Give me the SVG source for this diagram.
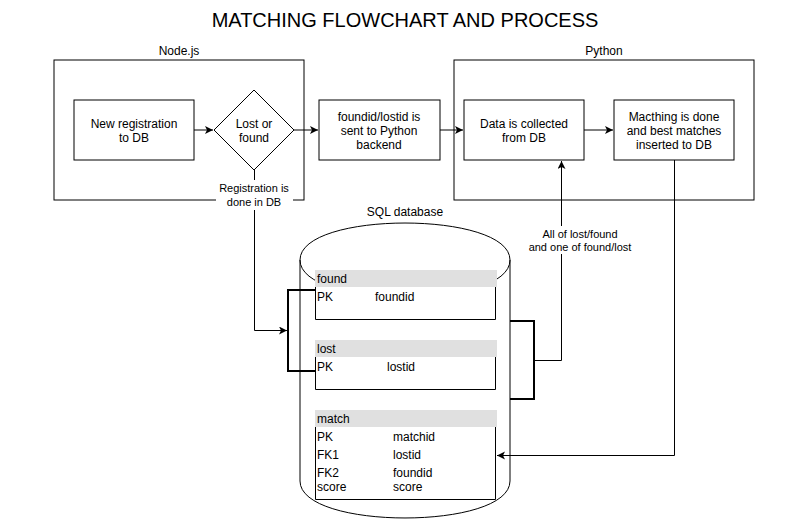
<svg xmlns="http://www.w3.org/2000/svg" width="811" height="521" viewBox="0 0 811 521">
<style>
text{font-family:"Liberation Sans",Arial,Helvetica,sans-serif;font-size:12px;fill:#000}
.c{text-anchor:middle}
.box{fill:#fff;stroke:#000;stroke-width:1}
.ln{fill:none;stroke:#000;stroke-width:1}
.body{fill:#fff;stroke:none}
.thick{fill:none;stroke:#000;stroke-width:2}
.hdr{fill:#e0e0e0;stroke:none}
</style>
<defs>
<marker id="arr" markerUnits="userSpaceOnUse" markerWidth="10" markerHeight="10" refX="8" refY="4" orient="auto">
<path d="M0,0 L8,4 L0,8 L2,4 Z" fill="#000"/>
</marker>
</defs>
<rect width="811" height="521" fill="#fff"/>
<text class="c" x="405" y="27" style="font-size:20px">MATCHING FLOWCHART AND PROCESS</text>

<g id="nodejs">
<rect class="box" x="54" y="60" width="250" height="140"/>
<text class="c" x="179" y="55">Node.js</text>
</g>
<g id="python">
<rect class="box" x="454" y="60" width="300" height="140"/>
<text class="c" x="604" y="55">Python</text>
</g>

<g id="db">
<path class="box" d="M300,260 C300,210.7 510,210.7 510,260 L510,481 C510,530.3 300,530.3 300,481 Z"/>
<path class="ln" d="M300,260 C300,309.3 510,309.3 510,260"/>
<text class="c" x="405" y="216">SQL database</text>
</g>

<g id="newreg">
<rect class="box" x="74" y="100" width="120" height="60"/>
<text class="c" x="134" y="128">New registration</text>
<text class="c" x="134" y="142">to DB</text>
</g>
<g id="lostorfound">
<path class="box" d="M254,90 L294,130 L254,170 L214,130 Z"/>
<text class="c" x="254" y="128">Lost or</text>
<text class="c" x="254" y="142">found</text>
</g>
<g id="sent">
<rect class="box" x="319" y="100" width="121" height="60"/>
<text class="c" x="379" y="121">foundid/lostid is</text>
<text class="c" x="379" y="135">sent to Python</text>
<text class="c" x="379" y="149">backend</text>
</g>
<g id="collect">
<rect class="box" x="464" y="100" width="120" height="60"/>
<text class="c" x="524" y="128">Data is collected</text>
<text class="c" x="524" y="142">from DB</text>
</g>
<g id="matching">
<rect class="box" x="614" y="100" width="120" height="60"/>
<text class="c" x="674" y="121">Macthing is done</text>
<text class="c" x="674" y="135">and best matches</text>
<text class="c" x="674" y="149">inserted to DB</text>
</g>

<g id="found">
<rect class="hdr" x="315" y="270" width="182" height="17"/>
<rect class="body" x="315" y="287" width="181" height="33"/>
<path class="ln" d="M315.5,287 L315.5,319.5 L495.5,319.5 L495.5,287"/>
<text x="317" y="283">found</text>
<text x="317" y="301">PK</text>
<text x="375" y="301">foundid</text>
</g>
<g id="lost">
<rect class="hdr" x="315" y="340" width="182" height="17"/>
<rect class="body" x="315" y="357" width="181" height="33"/>
<path class="ln" d="M315.5,357 L315.5,389.5 L495.5,389.5 L495.5,357"/>
<text x="317" y="353">lost</text>
<text x="317" y="371">PK</text>
<text x="387" y="371">lostid</text>
</g>
<g id="match">
<rect class="hdr" x="315" y="410" width="182" height="17"/>
<rect class="body" x="315" y="427" width="181" height="73"/>
<path class="ln" d="M315.5,427 L315.5,499.5 L495.5,499.5 L495.5,427"/>
<text x="317" y="423">match</text>
<text x="317" y="441">PK</text>
<text x="393" y="441">matchid</text>
<text x="317" y="459">FK1</text>
<text x="393" y="459">lostid</text>
<text x="317" y="477">FK2</text>
<text x="393" y="477">foundid</text>
<text x="317" y="491">score</text>
<text x="393" y="491">score</text>
</g>

<g id="connectors">
<line class="ln" x1="194" y1="130" x2="213" y2="130" marker-end="url(#arr)"/>
<line class="ln" x1="294" y1="130" x2="318" y2="130" marker-end="url(#arr)"/>
<line class="ln" x1="440" y1="130" x2="463" y2="130" marker-end="url(#arr)"/>
<line class="ln" x1="584" y1="130" x2="613" y2="130" marker-end="url(#arr)"/>
<path class="ln" d="M254.5,170 L254.5,330.5 L287,330.5" marker-end="url(#arr)"/>
<rect x="216" y="180" width="77" height="30" fill="#fff"/>
<text class="c" x="254" y="192" style="font-size:11px">Registration is</text>
<text class="c" x="254" y="206" style="font-size:11px">done in DB</text>
<path class="thick" d="M315,290 L288,290 L288,371 L315,371"/>
<path class="thick" d="M510,321 L534,321 L534,399 L510,399"/>
<path class="ln" d="M534,360.5 L561.5,360.5 L561.5,161" marker-end="url(#arr)"/>
<rect x="520" y="226" width="112" height="28" fill="#fff"/>
<text class="c" x="580" y="238" style="font-size:11px">All of lost/found</text>
<text class="c" x="580" y="251" style="font-size:11px">and one of found/lost</text>
<path class="ln" d="M674.5,160 L674.5,455.5 L497,455.5" marker-end="url(#arr)"/>
</g>
</svg>
